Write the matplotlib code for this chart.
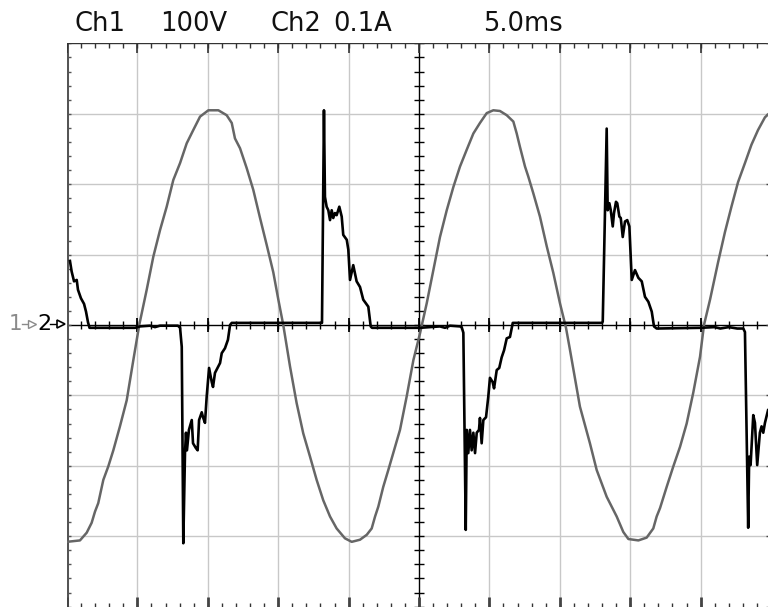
"""
Oscilloscope screen: mains voltage (Ch1) and rectifier input current (Ch2).
"""
import numpy as np
import matplotlib
matplotlib.use('Agg')
import matplotlib.pyplot as plt
from matplotlib.lines import Line2D

# ── scope settings ─────────────────────────────────────────────
MS_PER_DIV = 5.0
V_PER_DIV = 100.0
A_PER_DIV = 0.1

# ── Ch1: voltage (ms, V) ───────────────────────────────────────
t_v = [0.00, 0.92, 1.40, 1.75, 1.99, 2.22, 2.58, 2.93, 3.29, 3.76, 4.24, 4.71,
       5.13, 5.66, 6.13, 6.61, 7.08, 7.55, 8.03, 8.50, 8.97, 9.45, 10.04, 10.75,
       11.34, 11.70, 11.93, 12.29, 12.76, 13.23, 13.71, 14.18, 14.65, 15.01, 15.36,
       15.84, 16.31, 16.78, 17.26, 17.73, 18.20, 18.68, 19.15, 19.74, 20.22, 20.81,
       21.29, 21.64, 21.88, 22.11, 22.46, 22.82, 23.17, 23.65, 24.13, 24.60, 25.07,
       25.55, 26.02, 26.49, 26.97, 27.44, 27.91, 28.39, 28.86, 29.33, 29.81, 30.28,
       30.75, 31.23, 31.70, 31.94, 32.17, 32.53, 32.76, 33.12, 33.59, 34.07, 34.54,
       35.01, 35.44, 35.72, 36.43, 37.14, 37.62, 38.33, 39.04, 39.51, 39.87, 40.58,
       41.17, 41.64, 41.88, 42.12, 42.59, 43.06, 43.54, 44.01, 44.48, 44.96, 45.24,
       45.67, 46.24, 46.73, 47.19, 47.66, 48.15, 48.61, 49.08, 49.57, 50.00]
volts = [-308, -306, -295, -281, -265, -253, -220, -201, -178, -144, -107, -50,
         0, 50, 97, 135, 168, 206, 230, 258, 277, 296, 305, 305,
         298, 287, 265, 251, 223, 192, 152, 114, 75, 36, 0,
         -59, -111, -154, -187, -220, -249, -272, -289, -303, -308, -305,
         -298, -289, -272, -258, -230, -206, -182, -149, -101, -50, -12,
         31, 78, 125, 163, 196, 225, 249, 272, 287, 301, 305,
         304, 298, 289, 272, 253, 225, 211, 187, 154, 112, 74,
         31, -4, -35, -116, -168, -206, -244, -272, -294, -304, -306,
         -302, -289, -272, -260, -230, -201, -173, -140, -96, -45, 0,
         36, 89, 132, 168, 203, 230, 256, 277, 295, 303]

# ── Ch2: current (ms, A) ───────────────────────────────────────
t_i = [0.21, 0.33, 0.50, 0.69, 0.78, 0.99, 1.21, 1.35, 1.49, 1.60, 4.83, 5.18,
       5.89, 6.25, 6.60, 7.32, 7.88, 8.03, 8.15, 8.26, 8.38, 8.45, 8.52, 8.66,
       8.86, 8.95, 9.16, 9.28, 9.38, 9.57, 9.66, 9.80, 9.92, 10.09, 10.28, 10.37,
       10.51, 10.87, 10.99, 11.22, 11.43, 11.58, 11.70, 18.04, 18.11, 18.25, 18.32,
       18.44, 18.56, 18.68, 18.80, 18.91, 19.03, 19.15, 19.34, 19.51, 19.62, 19.87,
       19.98, 20.10, 20.33, 20.57, 20.81, 21.04, 21.40, 21.57, 21.66, 25.07, 25.78,
       26.49, 26.85, 27.20, 27.91, 28.03, 28.15, 28.32, 28.39, 28.50, 28.62, 28.74,
       28.86, 28.98, 29.10, 29.26, 29.33, 29.45, 29.57, 29.76, 29.92, 30.04, 30.23,
       30.33, 30.52, 30.70, 30.87, 31.04, 31.23, 31.46, 31.66, 38.00, 38.05, 38.33,
       38.40, 38.52, 38.62, 38.76, 38.85, 38.99, 39.08, 39.23, 39.33, 39.47, 39.63,
       39.79, 39.94, 40.11, 40.34, 40.58, 40.82, 41.05, 41.29, 41.53, 41.69, 41.88,
       45.00, 46.00, 46.40, 47.00, 47.60, 48.03, 48.15, 48.27, 48.38, 48.45, 48.55,
       48.62, 48.74, 48.86, 49.02, 49.21, 49.33, 49.45, 49.57, 49.79]
amps = [0.091, 0.076, 0.062, 0.064, 0.050, 0.038, 0.030, 0.019, 0.004, -0.004, -0.004, -0.002,
        -0.001, -0.003, -0.001, -0.001, -0.001, -0.004, -0.031, -0.310, -0.182, -0.153, -0.178, -0.149,
        -0.135, -0.168, -0.175, -0.178, -0.135, -0.124, -0.131, -0.139, -0.102, -0.061, -0.081, -0.088,
        -0.068, -0.054, -0.040, -0.033, -0.021, 0.000, 0.003, 0.003, 0.003, 0.305, 0.182,
        0.168, 0.163, 0.149, 0.163, 0.152, 0.159, 0.156, 0.168, 0.154, 0.128, 0.121,
        0.107, 0.064, 0.085, 0.062, 0.054, 0.036, 0.026, -0.002, -0.004, -0.004, -0.003,
        -0.002, -0.004, -0.001, -0.002, -0.003, -0.011, -0.291, -0.149, -0.182, -0.149, -0.178,
        -0.153, -0.182, -0.153, -0.149, -0.132, -0.168, -0.135, -0.131, -0.102, -0.075, -0.081,
        -0.090, -0.064, -0.061, -0.046, -0.036, -0.019, -0.017, 0.003, 0.003, 0.005, 0.279,
        0.163, 0.173, 0.163, 0.140, 0.159, 0.175, 0.173, 0.154, 0.152, 0.125, 0.147,
        0.149, 0.140, 0.064, 0.078, 0.067, 0.062, 0.040, 0.033, 0.019, -0.002, -0.005,
        -0.004, -0.003, -0.005, -0.003, -0.005, -0.005, -0.010, -0.153, -0.288, -0.187, -0.199,
        -0.173, -0.128, -0.139, -0.199, -0.153, -0.144, -0.153, -0.139, -0.121]

# ── figure ─────────────────────────────────────────────────────
fig = plt.figure(figsize=(7.68, 6.09), dpi=100)
fig.patch.set_facecolor('white')
ax = fig.add_axes([67 / 768, 2.4 / 609, 704 / 768, 563.2 / 609])
ax.set_xlim(0, 10)
ax.set_ylim(-4, 4)
ax.axis('off')

# graticule
for k in range(1, 10):
    if k != 5:
        ax.axvline(k, color='#c8c8c8', lw=1, zorder=1)
for k in range(-3, 4):
    if k != 0:
        ax.axhline(k, color='#c8c8c8', lw=1, zorder=1)

mx = np.arange(0, 10.01, 0.2)
my = np.arange(-4, 4.01, 0.2)
majx = np.arange(0, 11)
majy = np.arange(-4, 5)

# center cross with minor ticks
ax.axhline(0, color='black', lw=1, zorder=2)
ax.axvline(5, color='black', lw=1, zorder=2)
ax.vlines(mx, -0.06, 0.06, color='black', lw=1, zorder=2)
ax.vlines(majx, -0.1, 0.1, color='black', lw=1.3, zorder=2)
ax.hlines(my, 4.93, 5.07, color='black', lw=1, zorder=2)

# border ticks
ax.axvline(0, color='#555555', lw=2.2, zorder=2)
ax.hlines(my, 0, 0.06, color='#555555', lw=1, zorder=2)
ax.axhline(4, color='#333333', lw=1, zorder=2)
ax.vlines(mx, 3.94, 4, color='#333333', lw=1, zorder=2)
ax.vlines(majx, 3.86, 4, color='#333333', lw=1.2, zorder=2)
ax.vlines(mx, -4, -3.95, color='#333333', lw=1, zorder=2)
ax.vlines(majx, -4, -3.86, color='#444444', lw=2, zorder=2)
ax.hlines(majy, 9.93, 10, color='#444444', lw=1, zorder=2)

# traces
xv = np.array(t_v) / MS_PER_DIV
yv = np.array(volts) / V_PER_DIV
xi = np.array(t_i) / MS_PER_DIV
yi = np.array(amps) / A_PER_DIV
ax.plot(xv, yv, color='#666666', lw=1.8, zorder=3, solid_joinstyle='round')
ax.plot(xi, yi, color='black', lw=1.9, zorder=4, solid_joinstyle='round')

# header
base = 1 - 31 / 609
for x, s in [(75, 'Ch1'), (160, '100V'), (270, 'Ch2'), (333, '0.1A'), (483, '5.0ms')]:
    fig.text(x / 768, base, s, fontsize=18.5, va='baseline', ha='left', color='#111111')

# channel ground markers
ym = 1 - 323.5 / 609
fig.text(9 / 768, ym, '1', fontsize=15.5, va='center', ha='left', color='#8a8a8a')
fig.text(37 / 768, ym, '2', fontsize=16, va='center', ha='left', color='black')
fig.add_artist(Line2D([22 / 768, 30 / 768], [ym, ym], color='#8a8a8a', lw=1))
fig.add_artist(Line2D([32 / 768], [ym], marker='>', markersize=5.5, mfc='white',
                      mec='#8a8a8a', mew=1))
fig.add_artist(Line2D([50 / 768, 58 / 768], [ym, ym], color='black', lw=1))
fig.add_artist(Line2D([61 / 768], [ym], marker='>', markersize=5.5, mfc='white',
                      mec='black', mew=1.2))

fig.savefig('out.png', dpi=100, facecolor='white')
